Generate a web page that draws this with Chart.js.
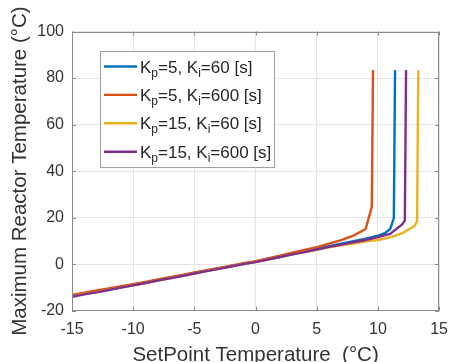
<!DOCTYPE html>
<html>
<head>
<meta charset="utf-8">
<script src="https://cdn.jsdelivr.net/npm/chart.js@4.4.1/dist/chart.umd.min.js"></script>
<style>
html,body{margin:0;padding:0;background:#fff;}
#wrap{width:457px;height:362px;position:relative;}
</style>
</head>
<body>
<div id="wrap"><canvas id="c" width="457" height="362"></canvas></div>
<script>
// ---- data ----
const kpValues = [5, 5, 15, 15];
const kiValues = [60, 600, 60, 600];
const seriesColors = ['#0072BD', '#D95319', '#EDB120', '#7E2F8E'];

const blueX = [-15,-14,-13,-12,-11,-10,-9,-8,-7,-6,-5,-4,-3,-2,-1,0,1,2,3,4,5,6,7,8,9,10,10.6,11,11.3,11.4];
const blueY = [-13.6,-12.7,-11.7,-10.8,-9.8,-8.8,-7.8,-6.8,-5.8,-4.8,-3.8,-2.8,-1.8,-0.8,0.2,1.1,2.2,3.2,4.3,5.4,6.6,7.7,8.8,9.9,11.0,12.2,13.4,15.1,19.8,83.4];

const redX = [-15,-14,-13,-12,-11,-10,-9,-8,-7,-6,-5,-4,-3,-2,-1,0,1,2,3,4,5,6,7,8,9,9.5,9.6];
const redY = [-13.2,-12.3,-11.3,-10.4,-9.5,-8.6,-7.6,-6.6,-5.6,-4.6,-3.5,-2.6,-1.6,-0.6,0.4,1.3,2.5,3.7,4.9,6.1,7.3,8.8,10.3,12.3,15.1,24.8,83.4];

const yellowX = [-15,-14,-13,-12,-11,-10,-9,-8,-7,-6,-5,-4,-3,-2,-1,0,1,2,3,4,5,6,7,8,9,10,11,12,13,13.2,13.3];
const yellowY = [-13.9,-12.9,-12.0,-11.0,-10.1,-9.1,-8.1,-7.1,-6.1,-5.1,-4.0,-3.0,-2.0,-1.0,0.0,0.9,2.0,3.1,4.1,5.2,6.2,7.2,8.1,8.9,9.7,10.4,11.5,13.3,16.5,18.5,83.4];

const purpleX = [-15,-14,-13,-12,-11,-10,-9,-8,-7,-6,-5,-4,-3,-2,-1,0,1,2,3,4,5,6,7,8,9,10,11,12,12.2,12.3];
const purpleY = [-14.0,-13.0,-12.1,-11.1,-10.1,-9.1,-8.1,-7.1,-6.1,-5.1,-4.0,-3.0,-2.0,-1.0,0.0,0.9,2.0,3.1,4.2,5.2,6.3,7.4,8.4,9.4,10.4,11.6,13.0,17.2,18.8,83.4];

const xTicks = [-15,-10,-5,0,5,10,15];
const yTicks = [-20,0,20,40,60,80,100];
const xTitle = 'SetPoint Temperature  (\u00B0C)';
const yTitle = 'Maximum Reactor Temperature (\u00B0C)';

// ---- build datasets ----
const allX = [blueX, redX, yellowX, purpleX];
const allY = [blueY, redY, yellowY, purpleY];
const datasets = allX.map((xs, i) => ({
  label: 'Kp=' + kpValues[i] + ', Ki=' + kiValues[i] + ' [s]',
  data: xs.map((x, j) => ({x: x, y: allY[i][j]})),
  borderColor: seriesColors[i],
  backgroundColor: seriesColors[i],
  borderWidth: 2.4,
  pointRadius: 0,
  tension: 0,
  fill: false,
  order: 3 - i
}));

const FONT = "'Liberation Sans', Arial, sans-serif";

// inward tick marks on all four sides (MATLAB box style)
const boxTicks = {
  id: 'boxTicks',
  afterDraw(chart) {
    const {ctx, chartArea: a, scales: {x, y}} = chart;
    ctx.save();
    ctx.strokeStyle = '#8a8a8a';
    ctx.lineWidth = 1;
    const L = 4;
    ctx.beginPath();
    xTicks.forEach(v => {
      const px = Math.round(x.getPixelForValue(v)) + 0.5;
      ctx.moveTo(px, a.bottom); ctx.lineTo(px, a.bottom - L);
      ctx.moveTo(px, a.top); ctx.lineTo(px, a.top + L);
    });
    yTicks.forEach(v => {
      const py = Math.round(y.getPixelForValue(v)) + 0.5;
      ctx.moveTo(a.left, py); ctx.lineTo(a.left + L, py);
      ctx.moveTo(a.right, py); ctx.lineTo(a.right - L, py);
    });
    ctx.stroke();
    ctx.strokeRect(Math.round(a.left) + 0.5, Math.round(a.top) + 0.5,
                   Math.round(a.right - a.left) - 1, Math.round(a.bottom - a.top) - 1);
    ctx.restore();
  }
};

// legend with subscripts
const subLegend = {
  id: 'subLegend',
  afterDraw(chart) {
    const ctx = chart.ctx;
    ctx.save();
    const bx = 100.5, by = 51.5, bw = 174, bh = 116;
    ctx.fillStyle = '#fff';
    ctx.fillRect(bx, by, bw, bh);
    ctx.strokeStyle = '#a0a0a0';
    ctx.lineWidth = 1;
    ctx.strokeRect(bx, by, bw, bh);
    const big = "17px " + FONT, small = "12px " + FONT;
    for (let i = 0; i < kpValues.length; i++) {
      const ly = 66.5 + i * 28.4;
      ctx.strokeStyle = seriesColors[i];
      ctx.lineWidth = 2.4;
      ctx.beginPath(); ctx.moveTo(104, ly); ctx.lineTo(137, ly); ctx.stroke();
      const base = ly + 6;
      let tx = 140;
      ctx.fillStyle = '#262626';
      ctx.textBaseline = 'alphabetic';
      ctx.textAlign = 'left';
      const parts = [
        ['K', big, 0], ['p', small, 4], ['=' + kpValues[i] + ', K', big, 0],
        ['i', small, 4], ['=' + kiValues[i] + ' [s]', big, 0]
      ];
      parts.forEach(([t, f, dy]) => {
        ctx.font = f;
        ctx.fillText(t, tx, base + dy);
        tx += ctx.measureText(t).width;
      });
    }
    ctx.restore();
  }
};

new Chart(document.getElementById('c'), {
  type: 'line',
  data: { datasets },
  options: {
    responsive: false,
    animation: false,
    devicePixelRatio: 1,
    layout: { padding: { left: 0, top: 31.5, right: 13, bottom: 0 } },
    plugins: { legend: { display: false }, tooltip: { enabled: false } },
    scales: {
      x: {
        type: 'linear', min: -15, max: 15,
        afterBuildTicks(s) { s.ticks = xTicks.map(v => ({value: v})); },
        afterFit(s) { s.height = 51.3; },
        grid: { color: '#e6e6e6', drawTicks: false },
        border: { display: false },
        ticks: { color: '#333', font: { family: FONT, size: 16 }, padding: 9, maxRotation: 0, autoSkip: false },
        title: { display: true, text: xTitle, color: '#333', font: { family: FONT, size: 20.5, lineHeight: 0.654 }, padding: { top: 0, bottom: 0 } }
      },
      y: {
        type: 'linear', min: -20, max: 100,
        afterBuildTicks(s) { s.ticks = yTicks.map(v => ({value: v})); },
        afterFit(s) { s.width = 72; },
        grid: { color: '#e6e6e6', drawTicks: false },
        border: { display: false },
        ticks: { color: '#333', font: { family: FONT, size: 16 }, padding: 8, autoSkip: false },
        title: { display: true, text: yTitle, color: '#333', font: { family: FONT, size: 20.5, lineHeight: 0.654 }, padding: { top: 13.6, bottom: 0 } }
      }
    }
  },
  plugins: [boxTicks, subLegend]
});
</script>
</body>
</html>
